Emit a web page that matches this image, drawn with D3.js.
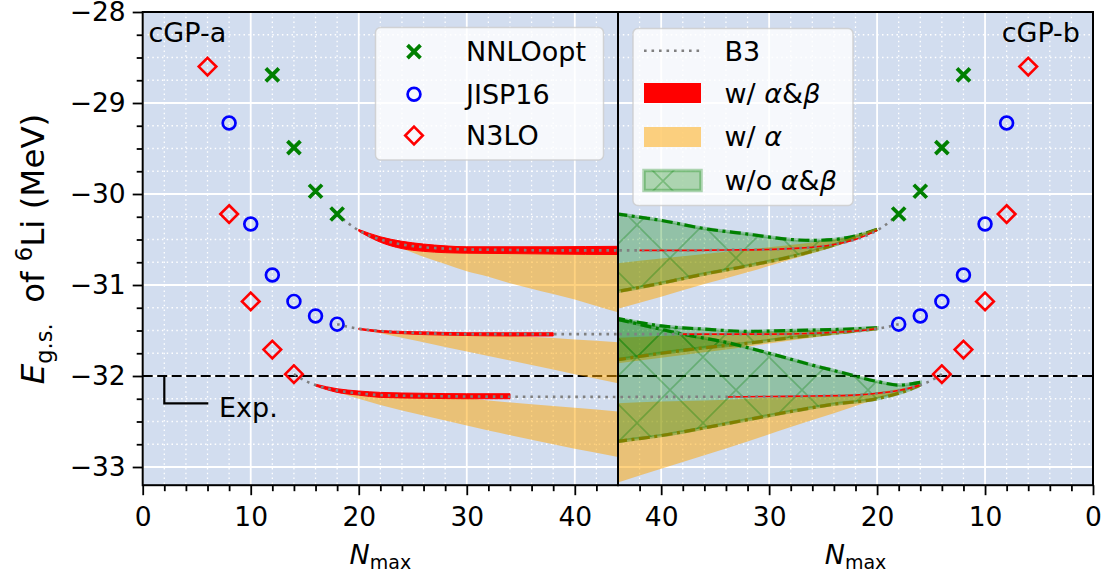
<!DOCTYPE html>
<html>
<head>
<meta charset="utf-8">
<script src="https://cdn.jsdelivr.net/npm/d3@7"></script>
<style>
  body { margin: 0; background: #fff; }
  svg text { font-family: "DejaVu Sans", sans-serif; }
</style>
</head>
<body>
<svg id="chart" width="1116" height="576"></svg>
<script>
// ---------------- data ----------------
// NCSM ground-state energies of 6Li (MeV) vs Nmax
const nmaxNNLO = [12, 14, 16, 18];
const eNNLO    = [-28.69, -29.49, -29.97, -30.22];
const nmaxJISP = [8, 10, 12, 14, 16, 18];
const eJISP    = [-29.22, -30.33, -30.89, -31.18, -31.34, -31.43];
const nmaxN3LO = [6, 8, 10, 12, 14];
const eN3LO    = [-28.60, -30.22, -31.18, -31.71, -31.98];

// B3 extrapolation curves
const b3NNLO_n = [18, 19, 20, 22, 24, 26, 28, 30, 34, 38, 44, 46];
const b3NNLO_e = [-30.22, -30.32, -30.40, -30.50, -30.555, -30.585, -30.60, -30.61, -30.615, -30.62, -30.62, -30.62];
const b3JISP_n = [18, 19, 20, 22, 24, 26, 30, 36, 44, 46];
const b3JISP_e = [-31.43, -31.46, -31.48, -31.505, -31.52, -31.53, -31.54, -31.54, -31.54, -31.54];
const b3N3LO_n = [14, 15, 16, 18, 20, 22, 26, 30, 44, 46];
const b3N3LO_e = [-31.98, -32.05, -32.10, -32.16, -32.19, -32.21, -32.22, -32.225, -32.23, -32.23];

// cGP-a: w/ alpha&beta (red bands)
const redA_NNLO_n  = [20, 22, 24, 26, 28, 30, 34, 38, 44, 46];
const redA_NNLO_lo = [-30.41, -30.53, -30.60, -30.63, -30.645, -30.65, -30.655, -30.66, -30.665, -30.665];
const redA_NNLO_hi = [-30.39, -30.47, -30.52, -30.55, -30.57, -30.58, -30.58, -30.58, -30.575, -30.575];
const redA_JISP_n  = [20, 22, 24, 26, 30, 34, 38];
const redA_JISP_lo = [-31.49, -31.52, -31.535, -31.545, -31.555, -31.56, -31.56];
const redA_JISP_hi = [-31.475, -31.50, -31.51, -31.515, -31.525, -31.525, -31.525];
const redA_N3LO_n  = [16, 18, 20, 22, 26, 30, 34];
const redA_N3LO_lo = [-32.11, -32.18, -32.21, -32.235, -32.245, -32.25, -32.25];
const redA_N3LO_hi = [-32.09, -32.14, -32.165, -32.18, -32.19, -32.195, -32.195];

// cGP-a: w/ alpha (orange bands)
const orA_NNLO_n  = [20, 22, 24, 26, 28, 30, 32, 34, 36, 38, 40, 42, 44, 46];
const orA_NNLO_lo = [-30.40, -30.51, -30.60, -30.69, -30.77, -30.85, -30.91, -30.98, -31.04, -31.10, -31.16, -31.23, -31.30, -31.36];
const orA_NNLO_hi = [-30.39, -30.47, -30.52, -30.55, -30.57, -30.58, -30.58, -30.58, -30.58, -30.58, -30.58, -30.58, -30.58, -30.58];
const orA_JISP_n  = [20, 24, 28, 32, 36, 40, 44, 46];
const orA_JISP_lo = [-31.48, -31.58, -31.68, -31.78, -31.88, -31.98, -32.08, -32.13];
const orA_JISP_hi = [-31.48, -31.51, -31.53, -31.55, -31.57, -31.60, -31.63, -31.65];
const orA_N3LO_n  = [16, 20, 24, 28, 32, 36, 40, 44, 46];
const orA_N3LO_lo = [-32.10, -32.25, -32.38, -32.49, -32.60, -32.70, -32.80, -32.89, -32.94];
const orA_N3LO_hi = [-32.10, -32.19, -32.21, -32.22, -32.27, -32.31, -32.35, -32.39, -32.41];

// cGP-b: w/ alpha&beta (red lines)
const redB_NNLO_n = [20, 22, 24, 26, 28, 30, 34, 38, 42];
const redB_NNLO_e = [-30.40, -30.50, -30.555, -30.585, -30.60, -30.61, -30.615, -30.62, -30.62];
const redB_JISP_n = [20, 22, 24, 26, 30, 34, 38];
const redB_JISP_e = [-31.48, -31.505, -31.52, -31.53, -31.54, -31.54, -31.54];
const redB_N3LO_n = [16, 18, 20, 22, 26, 30, 34];
const redB_N3LO_e = [-32.10, -32.16, -32.19, -32.21, -32.22, -32.225, -32.23];

// cGP-b: w/ alpha (orange bands)
const orB_NNLO_n  = [20, 22, 24, 28, 32, 36, 40, 44, 46];
const orB_NNLO_lo = [-30.39, -30.50, -30.58, -30.72, -30.86, -30.99, -31.13, -31.26, -31.33];
const orB_NNLO_hi = [-30.39, -30.45, -30.50, -30.56, -30.61, -30.66, -30.71, -30.76, -30.78];
const orB_JISP_n  = [20, 28, 36, 44, 46];
const orB_JISP_lo = [-31.49, -31.61, -31.74, -31.86, -31.89];
const orB_JISP_hi = [-31.48, -31.51, -31.545, -31.58, -31.59];
const orB_N3LO_n  = [16, 20, 24, 28, 32, 36, 40, 44, 46];
const orB_N3LO_lo = [-32.10, -32.25, -32.41, -32.56, -32.72, -32.87, -33.02, -33.17, -33.25];
const orB_N3LO_hi = [-32.10, -32.18, -32.21, -32.23, -32.25, -32.27, -32.28, -32.30, -32.31];

// cGP-b: w/o alpha&beta (green hatched bands)
const grB_NNLO_n  = [20, 22, 24, 26, 28, 32, 36, 40, 44, 46];
const grB_NNLO_up = [-30.39, -30.46, -30.50, -30.51, -30.50, -30.44, -30.38, -30.29, -30.22, -30.18];
const grB_NNLO_lo = [-30.39, -30.48, -30.56, -30.63, -30.69, -30.79, -30.88, -30.98, -31.07, -31.11];
const grB_JISP_n  = [20, 24, 28, 32, 36, 40, 44, 46];
const grB_JISP_up = [-31.47, -31.49, -31.50, -31.51, -31.485, -31.45, -31.37, -31.33];
const grB_JISP_lo = [-31.48, -31.53, -31.58, -31.64, -31.69, -31.75, -31.82, -31.85];
const grB_N3LO_up_n = [16, 17, 18, 20, 23, 26, 30, 34, 38, 41, 44, 46];
const grB_N3LO_up   = [-32.07, -32.09, -32.10, -32.06, -31.97, -31.88, -31.75, -31.63, -31.54, -31.46, -31.38, -31.34];
const grB_N3LO_lo_n = [16, 17, 20, 24, 28, 32, 36, 40, 44, 46];
const grB_N3LO_lo   = [-32.10, -32.15, -32.25, -32.31, -32.39, -32.48, -32.57, -32.655, -32.72, -32.76];

const expEnergy = -32.0;

// axis ticks
const xMajor = [0, 10, 20, 30, 40];
const xMinor = [2, 4, 6, 8, 12, 14, 16, 18, 22, 24, 26, 28, 32, 34, 36, 38, 42];
const yMajor = [-28, -29, -30, -31, -32, -33];
const yMinor = [-28.25, -28.5, -28.75, -29.25, -29.5, -29.75, -30.25, -30.5, -30.75,
                -31.25, -31.5, -31.75, -32.25, -32.5, -32.75, -33.25];

// ---------------- layout ----------------
const svg = d3.select("#chart");
const plotTop = 12, plotBottom = 485.2;
const xL = d3.scaleLinear().domain([0, 44]).range([142.7, 618]);
const xR = d3.scaleLinear().domain([44, 0]).range([618, 1093]);
const y  = d3.scaleLinear().domain([-33.2, -28]).range([plotBottom, plotTop]);

const GREEN = "#008000", OLIVE = "#808000", ORANGE = "#ffa500";
const BG = "#d2ddef";

const defs = svg.append("defs");
[["clipL", xL], ["clipR", xR]].forEach(([id, sx]) => {
  const r = sx.range();
  defs.append("clipPath").attr("id", id).append("rect")
    .attr("x", Math.min(...r)).attr("y", plotTop)
    .attr("width", Math.abs(r[1] - r[0])).attr("height", plotBottom - plotTop);
});
function hatch(id, ox, oy) {
  const p = defs.append("pattern").attr("id", id)
    .attr("patternUnits", "userSpaceOnUse")
    .attr("x", ox).attr("y", oy).attr("width", 66).attr("height", 66);
  p.append("path").attr("d", "M0,0L66,66M66,0L0,66")
    .attr("stroke", GREEN).attr("stroke-opacity", 0.3).attr("stroke-width", 1.6).attr("fill", "none");
}
hatch("hatchBand", 43, 27);
hatch("hatchKey", 36, 16);

const zip2 = (n, a) => n.map((v, i) => ({ n: v, a: a[i] }));
const zip3 = (n, lo, hi) => n.map((v, i) => ({ n: v, lo: lo[i], hi: hi[i] }));
const lineGen = sx => d3.line().x(d => sx(d.n)).y(d => y(d.a)).curve(d3.curveMonotoneX);
const areaGen = sx => d3.area().x(d => sx(d.n)).y0(d => y(d.lo)).y1(d => y(d.hi)).curve(d3.curveMonotoneX);

function panel(sx, clipId) {
  const r = sx.range();
  const x0 = Math.min(...r), x1 = Math.max(...r);
  const g = svg.append("g");
  g.append("rect").attr("x", x0).attr("y", plotTop).attr("width", x1 - x0).attr("height", plotBottom - plotTop).attr("fill", BG);
  const grid = g.append("g").attr("clip-path", `url(#${clipId})`);
  xMinor.forEach(v => grid.append("line").attr("x1", sx(v)).attr("x2", sx(v)).attr("y1", plotTop).attr("y2", plotBottom)
    .attr("stroke", "#fff").attr("stroke-width", 1.3).attr("stroke-dasharray", "1.5,3.3"));
  yMinor.forEach(v => grid.append("line").attr("x1", x0).attr("x2", x1).attr("y1", y(v)).attr("y2", y(v))
    .attr("stroke", "#fff").attr("stroke-width", 1.3).attr("stroke-dasharray", "1.5,3.3"));
  xMajor.forEach(v => grid.append("line").attr("x1", sx(v)).attr("x2", sx(v)).attr("y1", plotTop).attr("y2", plotBottom)
    .attr("stroke", "#fff").attr("stroke-width", 1.8));
  yMajor.forEach(v => grid.append("line").attr("x1", x0).attr("x2", x1).attr("y1", y(v)).attr("y2", y(v))
    .attr("stroke", "#fff").attr("stroke-width", 1.8));
  // experimental value
  g.append("line").attr("x1", x0).attr("x2", x1).attr("y1", y(expEnergy)).attr("y2", y(expEnergy))
    .attr("stroke", "#000").attr("stroke-width", 2.2).attr("stroke-dasharray", "10,4.5");
  const data = g.append("g").attr("clip-path", `url(#${clipId})`);
  return { g, data, x0, x1 };
}

// ---------------- cGP-a (left) ----------------
const A = panel(xL, "clipL");
[[orA_NNLO_n, orA_NNLO_lo, orA_NNLO_hi], [orA_JISP_n, orA_JISP_lo, orA_JISP_hi], [orA_N3LO_n, orA_N3LO_lo, orA_N3LO_hi]]
  .forEach(([n, lo, hi]) => A.data.append("path").attr("d", areaGen(xL)(zip3(n, lo, hi)))
    .attr("fill", ORANGE).attr("fill-opacity", 0.5));
[[redA_NNLO_n, redA_NNLO_lo, redA_NNLO_hi], [redA_JISP_n, redA_JISP_lo, redA_JISP_hi], [redA_N3LO_n, redA_N3LO_lo, redA_N3LO_hi]]
  .forEach(([n, lo, hi]) => A.data.append("path").attr("d", areaGen(xL)(zip3(n, lo, hi)))
    .attr("fill", "#ff0000").attr("stroke", "#ff0000").attr("stroke-width", 1));
[[b3NNLO_n, b3NNLO_e], [b3JISP_n, b3JISP_e], [b3N3LO_n, b3N3LO_e]]
  .forEach(([n, e]) => A.data.append("path").attr("d", lineGen(xL)(zip2(n, e)))
    .attr("fill", "none").attr("stroke", "#808080").attr("stroke-width", 2.6).attr("stroke-dasharray", "2.6,4.9"));

// ---------------- cGP-b (right) ----------------
const B = panel(xR, "clipR");
[[orB_NNLO_n, orB_NNLO_lo, orB_NNLO_hi], [orB_JISP_n, orB_JISP_lo, orB_JISP_hi], [orB_N3LO_n, orB_N3LO_lo, orB_N3LO_hi]]
  .forEach(([n, lo, hi]) => B.data.append("path").attr("d", areaGen(xR)(zip3(n, lo, hi)))
    .attr("fill", ORANGE).attr("fill-opacity", 0.5));

const greenBands = [
  { up: zip2(grB_NNLO_n, grB_NNLO_up), lo: zip2(grB_NNLO_n, grB_NNLO_lo) },
  { up: zip2(grB_JISP_n, grB_JISP_up), lo: zip2(grB_JISP_n, grB_JISP_lo) },
  { up: zip2(grB_N3LO_up_n, grB_N3LO_up), lo: zip2(grB_N3LO_lo_n, grB_N3LO_lo) }
];
const lR = lineGen(xR);
greenBands.forEach(b => {
  // closed outline: upper edge out to high Nmax, lower edge back to the tip
  const upPath = lR(b.up);
  const loPath = lR(b.lo.slice().reverse()).replace(/^M/, "L");
  const d = upPath + loPath + "Z";
  B.data.append("path").attr("d", d).attr("fill", GREEN).attr("fill-opacity", 0.3);
  B.data.append("path").attr("d", d).attr("fill", "url(#hatchBand)");
  B.data.append("path").attr("d", d).attr("fill", "none").attr("stroke", GREEN)
    .attr("stroke-opacity", 0.3).attr("stroke-width", 3.5);
});
greenBands.forEach(b => {
  B.data.append("path").attr("d", lR(b.up)).attr("fill", "none").attr("stroke", GREEN)
    .attr("stroke-width", 3.2).attr("stroke-dasharray", "11,4.5,3,4.5");
  B.data.append("path").attr("d", lR(b.lo)).attr("fill", "none").attr("stroke", OLIVE)
    .attr("stroke-width", 3.2).attr("stroke-dasharray", "11,4.5,3,4.5");
});
[[redB_NNLO_n, redB_NNLO_e], [redB_JISP_n, redB_JISP_e], [redB_N3LO_n, redB_N3LO_e]]
  .forEach(([n, e]) => B.data.append("path").attr("d", lR(zip2(n, e)))
    .attr("fill", "none").attr("stroke", "#ff0000").attr("stroke-width", 1.6));
[[b3NNLO_n, b3NNLO_e], [b3JISP_n, b3JISP_e], [b3N3LO_n, b3N3LO_e]]
  .forEach(([n, e]) => B.data.append("path").attr("d", lR(zip2(n, e)))
    .attr("fill", "none").attr("stroke", "#808080").attr("stroke-width", 2.6).attr("stroke-dasharray", "2.6,4.9"));

// ---------------- markers (both panels) ----------------
function markers(g, sx) {
  nmaxNNLO.forEach((n, i) => g.append("path")
    .attr("transform", `translate(${sx(n)},${y(eNNLO[i])})`)
    .attr("d", "M-6.5,-6.5L6.5,6.5M-6.5,6.5L6.5,-6.5")
    .attr("stroke", GREEN).attr("stroke-width", 3.8).attr("fill", "none"));
  nmaxJISP.forEach((n, i) => g.append("circle")
    .attr("cx", sx(n)).attr("cy", y(eJISP[i])).attr("r", 6.4)
    .attr("stroke", "#0000ff").attr("stroke-width", 2.7).attr("fill", "none"));
  nmaxN3LO.forEach((n, i) => g.append("path")
    .attr("transform", `translate(${sx(n)},${y(eN3LO[i])})`)
    .attr("d", "M0,-8.8L8.8,0L0,8.8L-8.8,0Z")
    .attr("stroke", "#ff0000").attr("stroke-width", 2.6).attr("fill", "none"));
}
markers(A.g, xL);
markers(B.g, xR);

// ---------------- frames, axes ----------------
[A, B].forEach(P => P.g.append("rect").attr("x", P.x0).attr("y", plotTop)
  .attr("width", P.x1 - P.x0).attr("height", plotBottom - plotTop)
  .attr("fill", "none").attr("stroke", "#000").attr("stroke-width", 2));

function styleAxis(sel) {
  sel.select(".domain").remove();
  sel.selectAll(".tick line").attr("stroke", "#000").attr("stroke-width", 1.8);
  sel.selectAll(".tick text").attr("font-size", 26.5).attr("fill", "#000")
    .attr("font-family", "DejaVu Sans, sans-serif");
}
[xL, xR].forEach(sx => {
  svg.append("g").attr("transform", `translate(0,${plotBottom})`)
    .call(d3.axisBottom(sx).tickValues(xMinor).tickSize(6).tickFormat(""))
    .call(styleAxis);
  svg.append("g").attr("transform", `translate(0,${plotBottom})`)
    .call(d3.axisBottom(sx).tickValues(xMajor).tickSize(10).tickPadding(12).tickFormat(d3.format("d")))
    .call(styleAxis);
});
svg.append("g").attr("transform", `translate(${xL(0)},0)`)
  .call(d3.axisLeft(y).tickValues(yMinor.filter(v => v >= -33.2)).tickSize(6).tickFormat(""))
  .call(styleAxis);
svg.append("g").attr("transform", `translate(${xL(0)},0)`)
  .call(d3.axisLeft(y).tickValues(yMajor).tickSize(10).tickPadding(7).tickFormat(d3.format("d")))
  .call(styleAxis);

// axis titles
[xL, xR].forEach(sx => {
  const t = svg.append("text").attr("x", (sx.range()[0] + sx.range()[1]) / 2).attr("y", 564)
    .attr("text-anchor", "middle").attr("font-size", 27);
  t.append("tspan").attr("font-style", "italic").text("N");
  t.append("tspan").attr("font-size", 19).attr("dy", 5).text("max");
});
const yl = svg.append("text").attr("transform", `translate(44,249) rotate(-90)`)
  .attr("text-anchor", "middle").attr("font-size", 32.5);
yl.append("tspan").attr("font-style", "italic").text("E");
yl.append("tspan").attr("font-size", 22.5).attr("dy", 7.5).text("g.s.");
yl.append("tspan").attr("dy", -7.5).text("\u00a0\u00a0of\u00a0");
yl.append("tspan").attr("font-size", 22.5).attr("dy", -12).text("6");
yl.append("tspan").attr("dy", 12).text("Li (MeV)");

// panel tags
svg.append("text").attr("x", 148.5).attr("y", 41.5).attr("font-size", 27).text("cGP-a");
svg.append("text").attr("x", 1080).attr("y", 41.5).attr("font-size", 27).attr("text-anchor", "end").text("cGP-b");

// experiment key
svg.append("path").attr("d", `M${xL(2)},${y(expEnergy)}L${xL(2)},403.3L208.3,403.3`)
  .attr("fill", "none").attr("stroke", "#000").attr("stroke-width", 2.2);
svg.append("text").attr("x", 219).attr("y", 417).attr("font-size", 27).text("Exp.");

// ---------------- legends ----------------
function legendBox(x, yTop, w, h) {
  svg.append("rect").attr("x", x).attr("y", yTop).attr("width", w).attr("height", h).attr("rx", 5)
    .attr("fill", "#fff").attr("fill-opacity", 0.8).attr("stroke", "#cccccc").attr("stroke-opacity", 0.8)
    .attr("stroke-width", 1.5);
}
legendBox(375.5, 27.5, 228, 132.5);
const leg1 = [
  { label: "NNLOopt", y: 51.7, kind: "x" },
  { label: "JISP16", y: 94.3, kind: "o" },
  { label: "N3LO", y: 135.5, kind: "d" }
];
leg1.forEach(e => {
  const mx = 414;
  if (e.kind === "x") svg.append("path").attr("transform", `translate(${mx},${e.y})`)
    .attr("d", "M-6.5,-6.5L6.5,6.5M-6.5,6.5L6.5,-6.5").attr("stroke", GREEN).attr("stroke-width", 3.8);
  if (e.kind === "o") svg.append("circle").attr("cx", mx).attr("cy", e.y).attr("r", 6.4)
    .attr("stroke", "#0000ff").attr("stroke-width", 2.7).attr("fill", "none");
  if (e.kind === "d") svg.append("path").attr("transform", `translate(${mx},${e.y})`)
    .attr("d", "M0,-8.8L8.8,0L0,8.8L-8.8,0Z").attr("stroke", "#ff0000").attr("stroke-width", 2.6).attr("fill", "none");
  svg.append("text").attr("x", 466).attr("y", e.y + 9.5).attr("font-size", 27).text(e.label);
});

legendBox(633, 28.5, 220, 177);
const kx = 644, kw = 57, kh = 20;
svg.append("line").attr("x1", kx).attr("x2", kx + kw).attr("y1", 50.7).attr("y2", 50.7)
  .attr("stroke", "#808080").attr("stroke-width", 2.6).attr("stroke-dasharray", "2.6,4.9");
svg.append("rect").attr("x", kx).attr("y", 83).attr("width", kw).attr("height", kh).attr("fill", "#ff0000");
svg.append("rect").attr("x", kx).attr("y", 127).attr("width", kw).attr("height", kh).attr("fill", ORANGE).attr("fill-opacity", 0.5);
svg.append("rect").attr("x", kx).attr("y", 170.5).attr("width", kw).attr("height", kh).attr("fill", GREEN).attr("fill-opacity", 0.3);
svg.append("rect").attr("x", kx).attr("y", 170.5).attr("width", kw).attr("height", kh).attr("fill", "url(#hatchKey)");
svg.append("rect").attr("x", kx).attr("y", 170.5).attr("width", kw).attr("height", kh).attr("fill", "none")
  .attr("stroke", GREEN).attr("stroke-opacity", 0.3).attr("stroke-width", 3.5);

const tx = 724.5;
svg.append("text").attr("x", tx).attr("y", 60.5).attr("font-size", 27).text("B3");
function greek(yb, parts) {
  const t = svg.append("text").attr("x", tx).attr("y", yb).attr("font-size", 27);
  parts.forEach(([s, it]) => t.append("tspan").attr("font-style", it ? "italic" : null).text(s));
}
greek(102.5, [["w/\u00a0", false], ["α", true], ["&", false], ["β", true]]);
greek(146, [["w/\u00a0", false], ["α", true]]);
greek(190, [["w/o\u00a0", false], ["α", true], ["&", false], ["β", true]]);
</script>
</body>
</html>
